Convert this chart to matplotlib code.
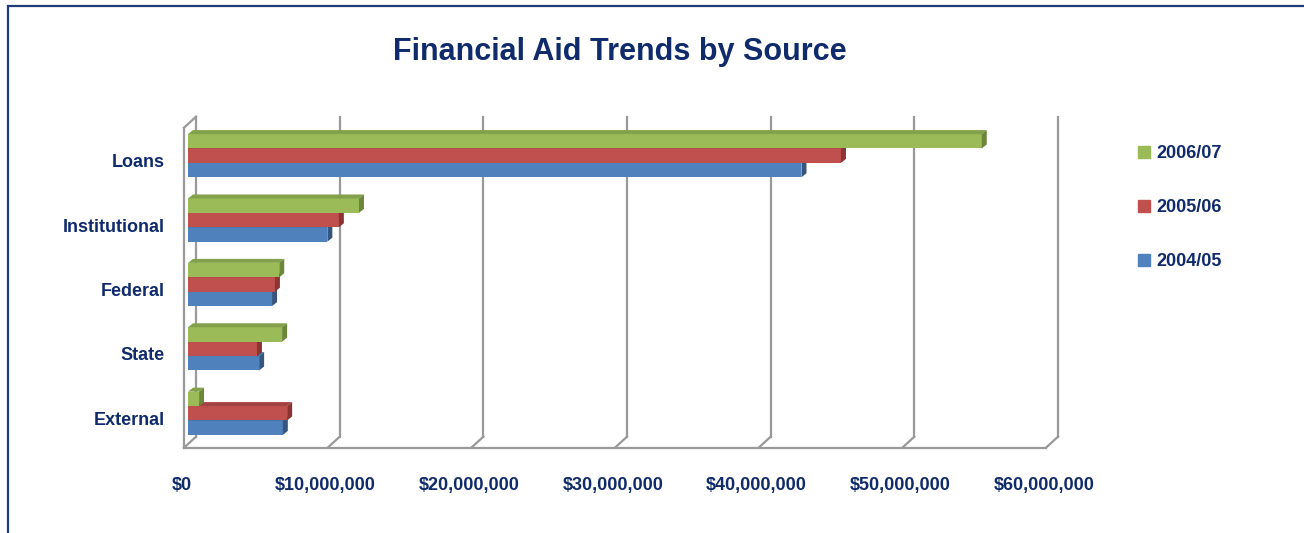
import matplotlib; matplotlib.use('Agg')
import matplotlib.pyplot as plt
from matplotlib.patches import Polygon, Patch, Rectangle
from matplotlib.lines import Line2D
from matplotlib.transforms import IdentityTransform, ScaledTranslation
from matplotlib.ticker import FuncFormatter

plt.rcParams['font.family'] = ['Liberation Sans Narrow', 'Liberation Sans', 'DejaVu Sans']
plt.rcParams['font.weight'] = 'bold'

# data (dollars), categories listed top to bottom
sources = ["Loans", "Institutional", "Federal", "State", "External"]
years = ["2004/05", "2005/06", "2006/07"]
aid_0405 = [42_700_000, 9_700_000, 5_850_000, 4_950_000, 6_600_000]
aid_0506 = [45_450_000, 10_500_000, 6_050_000, 4_800_000, 6_900_000]
aid_0607 = [55_250_000, 11_900_000, 6_350_000, 6_550_000, 770_000]
xticks = [0, 10e6, 20e6, 30e6, 40e6, 50e6, 60e6]

# face, top, side colours per series
styles = [("#4F81BD", "#42699A", "#35577F"),
          ("#C0504D", "#A34341", "#8A3533"),
          ("#9BBB59", "#83A04A", "#6C873A")]
NAVY = "#0F2B6B"
GRID = "#999999"

W, H, DPI = 1304, 533, 100
fig = plt.figure(figsize=(W / DPI, H / DPI), dpi=DPI)
fig.patch.set_facecolor("white")
ax = fig.add_axes([188 / W, 89 / H, 862 / W, 320 / H])
ax.set_xlim(0, 60e6)
ax.set_ylim(-0.477, 4.492)
ax.set_facecolor("none")
for s in ax.spines.values():
    s.set_visible(False)

def px(x, y, dx=0, dy=0):
    a, b = ax.transData.transform((x, y))
    return a + dx, b + dy

def seg(p, q, z=1):
    ax.add_line(Line2D([p[0], q[0]], [p[1], q[1]], color=GRID, lw=1.6,
                       transform=IdentityTransform(), clip_on=False, zorder=z))

# pseudo-3D walls
BACK = (8, 7.3)
FRONT = (-4, -3.7)
y0, y1 = ax.get_ylim()
for t in xticks:
    seg(px(t, y0, *BACK), px(t, y1, *BACK))
    seg(px(t, y0, *BACK), px(t, y0, *FRONT))
seg(px(0, y0, *FRONT), px(0, y1, *FRONT))
seg(px(0, y1, *FRONT), px(0, y1, *BACK))
seg(px(0, y0, *FRONT), px(60e6, y0, *FRONT))

# bars
h = 0.2236
DX, DY = 5, 4
ypos = [len(sources) - 1 - i for i in range(len(sources))]
series = [aid_0405, aid_0506, aid_0607]
for k, (vals, (face, top, side)) in enumerate(zip(series, styles)):
    z = 3 + k
    yc = [y + (k - 1) * h for y in ypos]
    ax.barh(yc, vals, height=h, color=face, zorder=z, edgecolor="none")
    for y, v in zip(yc, vals):
        b0, b1 = y - h / 2, y + h / 2
        top_poly = [px(0, b1), px(v, b1), px(v, b1, DX, DY), px(0, b1, DX, DY)]
        side_poly = [px(v, b0), px(v, b1), px(v, b1, DX, DY), px(v, b0, DX, DY)]
        ax.add_patch(Polygon(top_poly, closed=True, fc=top, ec="none",
                             transform=IdentityTransform(), clip_on=False, zorder=z))
        ax.add_patch(Polygon(side_poly, closed=True, fc=side, ec="none",
                             transform=IdentityTransform(), clip_on=False, zorder=z))

# axes text
ax.set_yticks(ypos, sources)
ax.tick_params(axis="y", length=0, pad=17, labelsize=13, labelcolor=NAVY)
for lbl in ax.get_yticklabels():
    lbl.set_transform(lbl.get_transform() + ScaledTranslation(0, -5 / DPI, fig.dpi_scale_trans))
ax.set_xticks(xticks)
ax.xaxis.set_major_formatter(FuncFormatter(lambda v, p: f"${v:,.0f}"))
ax.tick_params(axis="x", length=0, pad=24, labelsize=13, labelcolor=NAVY)
for lbl in ax.get_xticklabels():
    lbl.set_transform(lbl.get_transform() + ScaledTranslation(-6 / DPI, 0, fig.dpi_scale_trans))

fig.text(620 / W, 1 - 52 / H, "Financial Aid Trends by Source", ha="center", va="center",
         fontsize=22, color=NAVY, fontweight="bold")

handles = [Patch(color=styles[i][0]) for i in (2, 1, 0)]
fig.legend(handles, [years[i] for i in (2, 1, 0)], loc="upper left",
           bbox_to_anchor=(1138 / W, 1 - 145 / H), frameon=False, fontsize=13,
           labelcolor=NAVY, handlelength=0.65, handleheight=0.65, handletextpad=0.35,
           labelspacing=2.05, borderpad=0, borderaxespad=0)

# outer frame (runs off the right and bottom edges)
fig.add_artist(Rectangle((8 / W, -0.2), 1.2, 1.2 - 6 / H, fill=False, ec="#1F3C7A",
                         lw=1.6, transform=fig.transFigure, clip_on=False))

fig.savefig("out.png", dpi=DPI)
